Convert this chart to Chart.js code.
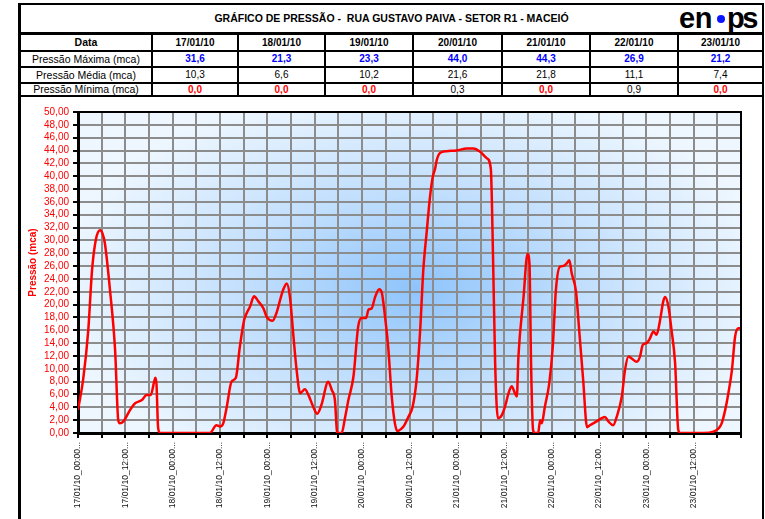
<!DOCTYPE html>
<html>
<head>
<meta charset="utf-8">
<script src="https://cdn.jsdelivr.net/npm/chart.js@4.4.1/dist/chart.umd.min.js"></script>
<style>
  html, body { margin: 0; padding: 0; background: #fff; }
  body { width: 765px; height: 519px; overflow: hidden; position: relative;
         font-family: Arial, "Liberation Sans", sans-serif; }
  .ln { position: absolute; background: #000; }
  .cell { position: absolute; display: flex; align-items: center; justify-content: center;
          white-space: pre; line-height: 1; color: #000; }
  #logo { position: absolute; left: 676px; top: 6px; width: 84px; height: 26px; overflow: hidden; }
  #logo span { position: absolute; font-weight: bold; font-size: 29px; line-height: 29px; top: -2px; color: #000; }
  #logo .dot { position: absolute; width: 8px; height: 8px; border-radius: 50%; background: #0a14ff; }
  #wrap { position: absolute; left: 22px; top: 98px; width: 740px; height: 421px; }
</style>
</head>
<body>
<div id="sheet"></div>
<div id="logo"><span style="left:3px;letter-spacing:-0.5px">en</span><div class="dot" style="left:41px;top:9px"></div><span style="left:51px;letter-spacing:-2.5px">ps</span></div>
<div id="wrap"><canvas id="c" width="740" height="421"></canvas></div>
<script>
// Daily summary table
const dates = ['17/01/10', '18/01/10', '19/01/10', '20/01/10', '21/01/10', '22/01/10', '23/01/10'];
const maxPressure = [31.6, 21.3, 23.3, 44.0, 44.3, 26.9, 21.2];
const meanPressure = [10.3, 6.6, 10.2, 21.6, 21.8, 11.1, 7.4];
const minPressure = [0.0, 0.0, 0.0, 0.3, 0.0, 0.9, 0.0];

// Pressure readings: hours since 17/01/10 00:00 and pressure (mca)
const hours = [
  0, 1.3, 2.6, 3.5, 3.9, 4.7, 5.6, 6.2, 6.8, 8.1, 9.4, 10.2, 10.6, 11.5, 13.2, 14.4, 16.1, 17.4, 18.4,
  19.3, 19.6, 19.9, 20.3, 20.8, 33.4, 35.1, 36.0, 36.8, 37.7, 38.9, 40.0, 41.0, 42.1, 42.7, 43.6, 44.6,
  45.7, 47.0, 47.8, 49.3, 50.4, 51.2, 52.0, 52.9, 53.7, 54.6, 55.4, 56.3, 57.5, 58.4, 59.6, 60.6, 61.7,
  63.4, 64.3, 65.1, 65.7, 66.8, 67.7, 68.5, 69.8, 71.0, 71.9, 73.0, 73.6, 74.4, 75.3, 76.3, 77.0, 77.8,
  78.6, 79.5, 80.3, 80.9, 82.0, 82.6, 83.7, 84.8, 85.8, 86.7, 87.5, 88.4, 89.2, 89.9, 90.5, 90.9, 91.7,
  93.4, 95.9, 98.5, 100.2, 101.9, 103.6, 104.6, 105.2, 105.7, 106.4, 107.4, 108.2, 109.1, 109.9, 110.7,
  111.2, 111.6, 112.9, 113.9, 114.4, 114.8, 115.3, 115.8, 116.6, 117.1, 117.5, 118.3, 119.4, 120.3,
  121.1, 122.1, 122.9, 123.8, 124.5, 125.1, 126.2, 127.0, 128.0, 129.0, 129.7, 131.4, 132.7, 133.5,
  134.4, 135.6, 136.5, 137.8, 138.6, 139.5, 140.3, 141.6, 142.4, 143.1, 144.1, 144.9, 145.8, 146.6,
  147.5, 148.3, 148.8, 149.6, 150.4, 151.3, 152.1, 152.6, 158.5, 161.0, 162.3, 163.1, 164.0, 164.8,
  165.7, 166.5, 167.4, 168.0
];
const pressure = [
  3.6, 8.3, 16.0, 24.9, 27.5, 30.6, 31.6, 31.1, 29.6, 22.3, 12.9, 2.0, 1.5, 1.8, 3.6, 4.6, 5.1, 5.9, 5.9,
  8.0, 8.6, 7.5, 0.8, 0.0, 0.0, 1.2, 1.0, 1.5, 4.1, 8.0, 8.6, 13.4, 17.6, 18.6, 19.7, 21.3,
  20.5, 19.4, 18.1, 17.5, 18.9, 20.7, 22.3, 23.3, 21.2, 15.0, 9.8, 6.2, 6.8, 5.9, 4.1, 3.0, 4.4,
  8.0, 6.7, 5.1, 0.0, 0.0, 2.5, 5.1, 8.8, 16.6, 17.9, 17.9, 19.2, 19.4, 21.2, 22.4, 21.8, 18.1,
  13.4, 5.7, 1.5, 0.3, 0.7, 1.1, 2.5, 4.1, 8.3, 16.0, 25.4, 31.6, 36.8, 39.9, 41.2, 42.5, 43.6,
  43.9, 44.0, 44.3, 44.3, 43.8, 42.8, 41.2, 26.4, 10.9, 2.3, 2.8, 4.1, 6.2, 7.3, 6.2,
  5.7, 11.9, 21.2, 27.9, 26.4, 10.9, 0.5, 0.0, 0.0, 2.0, 1.5, 4.1, 7.7, 13.4,
  22.3, 25.9, 26.0, 26.4, 26.9, 24.9, 22.0, 16.0, 8.3, 0.9, 1.2, 1.8, 2.3, 2.5,
  1.8, 1.2, 2.5, 5.7, 9.8, 11.9, 11.6, 11.1, 11.9, 13.7, 14.0, 14.7, 15.8, 15.3,
  17.6, 20.5, 21.2, 19.7, 16.0, 10.9, 0.5, 0.0, 0.0, 0.2, 0.7, 1.5, 3.6, 6.2,
  9.8, 15.0, 16.3, 16.3
];

// Time axis labels, one every 12 hours
const axisLabels = [
  '17/01/10_00:00...', '17/01/10_12:00...', '18/01/10_00:00...', '18/01/10_12:00...',
  '19/01/10_00:00...', '19/01/10_12:00...', '20/01/10_00:00...', '20/01/10_12:00...',
  '21/01/10_00:00...', '21/01/10_12:00...', '22/01/10_00:00...', '22/01/10_12:00...',
  '23/01/10_00:00...', '23/01/10_12:00...'
];

const TITLE = 'GRÁFICO DE PRESSÃO -  RUA GUSTAVO PAIVA - SETOR R1 - MACEIÓ';
const Y_TITLE = 'Pressão (mca)';

// ---------- header table ----------
const sheet = document.getElementById('sheet');
function line(x, y, w, h) {
  const d = document.createElement('div');
  d.className = 'ln';
  Object.assign(d.style, { left: x + 'px', top: y + 'px', width: w + 'px', height: h + 'px' });
  sheet.appendChild(d);
}
function cell(x1, x2, y1, y2, text, css) {
  const d = document.createElement('div');
  d.className = 'cell';
  Object.assign(d.style, { left: x1 + 'px', top: y1 + 'px', width: (x2 - x1) + 'px', height: (y2 - y1) + 'px' }, css || {});
  d.textContent = text;
  sheet.appendChild(d);
}
const fmt1 = v => v.toFixed(1).replace('.', ',');

// frame
line(18, 3, 3, 520);
line(18, 3, 746, 2);
line(762, 3, 2, 520);
// rows
line(18, 32, 746, 3);
[50, 66, 82, 95].forEach(y => line(18, y, 746, 2));
// columns
const colX = [151, 237, 324, 412, 501, 589, 677];
colX.forEach(x => line(x, 32, 2, 65));

cell(21, 762, 5, 32, TITLE, { fontWeight: 'bold', fontSize: '10.5px' });

const rowsY = [[35, 50], [52, 66], [68, 82], [84, 95]];
const colBounds = [[21, 151]].concat(colX.map((x, i) => [x + 2, i < colX.length - 1 ? colX[i + 1] : 762]));
const rowLabels = ['Data', 'Pressão Máxima (mca)', 'Pressão Média (mca)', 'Pressão Mínima (mca)'];
rowLabels.forEach((t, r) => {
  cell(colBounds[0][0], colBounds[0][1], rowsY[r][0], rowsY[r][1], t,
       { fontSize: '10.5px', fontWeight: r === 0 ? 'bold' : 'normal' });
});
dates.forEach((d, i) => {
  const [x1, x2] = colBounds[i + 1];
  cell(x1, x2, rowsY[0][0], rowsY[0][1], d, { fontSize: '10px', fontWeight: 'bold' });
  cell(x1, x2, rowsY[1][0], rowsY[1][1], fmt1(maxPressure[i]),
       { fontSize: '10px', fontWeight: 'bold', color: '#0000ff' });
  cell(x1, x2, rowsY[2][0], rowsY[2][1], fmt1(meanPressure[i]), { fontSize: '10px' });
  const zero = minPressure[i] === 0;
  cell(x1, x2, rowsY[3][0], rowsY[3][1], fmt1(minPressure[i]),
       { fontSize: '10px', fontWeight: zero ? 'bold' : 'normal', color: zero ? '#ff0000' : '#000' });
});

// ---------- chart ----------
const plotBackground = {
  id: 'plotBackground',
  beforeDraw(chart) {
    const { ctx, chartArea: a } = chart;
    ctx.save();
    ctx.beginPath();
    ctx.rect(a.left, a.top, a.right - a.left, a.bottom - a.top);
    ctx.clip();
    const cx = a.left + (a.right - a.left) * 0.51;
    const cy = a.top + (a.bottom - a.top) * 0.55;
    const rx = 360, ry = 210;
    ctx.translate(cx, cy);
    ctx.scale(1, ry / rx);
    const g = ctx.createRadialGradient(0, 0, 0, 0, 0, rx);
    g.addColorStop(0, '#8ec4fb');
    g.addColorStop(0.45, '#c0defd');
    g.addColorStop(1, '#eef7ff');
    ctx.fillStyle = g;
    ctx.fillRect(-rx * 2, -rx * 2, rx * 4, rx * 4);
    ctx.restore();
  },
  afterDraw(chart) {
    const { ctx, chartArea: a } = chart;
    ctx.save();
    ctx.strokeStyle = '#000';
    ctx.lineWidth = 2;
    ctx.beginPath();
    ctx.moveTo(a.left, a.top);
    ctx.lineTo(a.right, a.top);
    ctx.lineTo(a.right, a.bottom);
    ctx.stroke();
    // vertical axis title
    ctx.translate(11.5, 164.5);
    ctx.rotate(-Math.PI / 2);
    ctx.fillStyle = '#ff0000';
    ctx.font = 'bold 10px Arial, "Liberation Sans", sans-serif';
    ctx.textAlign = 'center';
    ctx.textBaseline = 'middle';
    ctx.fillText(Y_TITLE, 0, 0);
    ctx.restore();
  }
};

new Chart(document.getElementById('c'), {
  type: 'line',
  data: {
    datasets: [{
      data: hours.map((h, i) => ({ x: h, y: pressure[i] })),
      borderColor: '#ff0000',
      borderWidth: 2.5,
      pointRadius: 0,
      fill: false,
      cubicInterpolationMode: 'monotone'
    }]
  },
  options: {
    responsive: false,
    animation: false,
    devicePixelRatio: 1,
    layout: { padding: { left: 0, top: 14, right: 21, bottom: 0 } },
    plugins: { legend: { display: false }, tooltip: { enabled: false } },
    scales: {
      x: {
        type: 'linear',
        min: 0, max: 168,
        afterFit: s => { s.height = 86; },
        grid: { color: '#8c8c8c', lineWidth: 2, tickColor: '#000', tickWidth: 2, tickLength: 5 },
        border: { color: '#000', width: 3 },
        ticks: {
          stepSize: 6,
          autoSkip: false,
          minRotation: 90, maxRotation: 90,
          padding: 4,
          color: '#111',
          font: { family: 'Arial, "Liberation Sans", sans-serif', size: 8.5 },
          callback: v => (v % 12 === 0 && v < 168) ? axisLabels[v / 12] : ''
        }
      },
      y: {
        min: 0, max: 50,
        afterFit: s => { s.width = 56; },
        grid: { color: '#8c8c8c', lineWidth: 2, tickColor: '#000', tickWidth: 2, tickLength: 5 },
        border: { color: '#000', width: 3 },
        ticks: {
          stepSize: 2,
          autoSkip: false,
          padding: 4,
          color: '#ff0000',
          font: { family: 'Arial, "Liberation Sans", sans-serif', size: 10 },
          callback: v => v.toFixed(2).replace('.', ',')
        }
      }
    }
  },
  plugins: [plotBackground]
});
</script>
</body>
</html>
